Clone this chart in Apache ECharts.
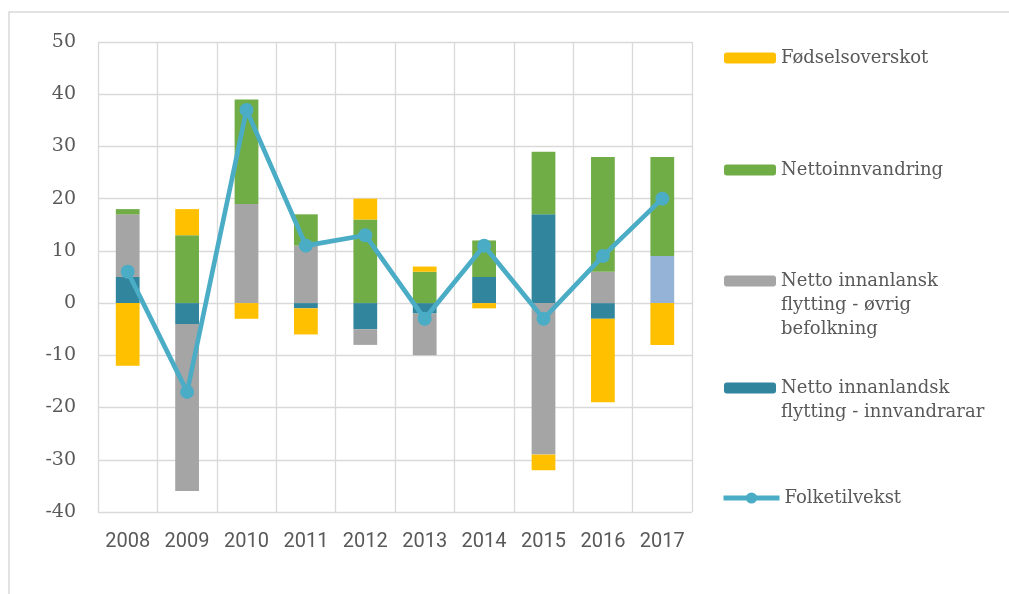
<!DOCTYPE html>
<html>
<head>
<meta charset="utf-8">
<script src="https://cdn.jsdelivr.net/npm/echarts@6/dist/echarts.min.js"></script>
<style>
  html, body { margin: 0; padding: 0; background: #fff; }
  #chart { width: 1009px; height: 594px; }
</style>
</head>
<body>
<div id="chart"></div>
<script>
// Categories
const years = ["2008", "2009", "2010", "2011", "2012", "2013", "2014", "2015", "2016", "2017"];

// Stacked components (thousands)
const fodselsoverskot = [-12, 5, -3, -5, 4, 1, -1, -3, -16, -8];
const nettoinnvandring = [1, 13, 20, 6, 16, 6, 7, 12, 22, 19];
const flyttingOvrig = [12, -32, 19, 11, -3, -8, 0, -29, 6, 9];
const flyttingInnvandrarar = [5, -4, 0, -1, -5, -2, 5, 17, -3, 0];

// Line
const folketilvekst = [6, -17, 37, 11, 13, -3, 11, -3, 9, 20];

const yTicks = [-40, -30, -20, -10, 0, 10, 20, 30, 40, 50];

const names = {
  fodsel: "Fødselsoverskot",
  innv: "Nettoinnvandring",
  ovrig: "Netto innanlansk\nflytting - øvrig\nbefolkning",
  innvFlytt: "Netto innanlandsk\nflytting - innvandrarar",
  vekst: "Folketilvekst"
};

const textColor = "#595959";
const gridColor = "#d9d9d9";
const lineH = 24;

// one legend block per item so the spacing matches the original;
// blank lines in front keep the first text line level with the icon
function legendItem(name, top, extra) {
  const lines = name.split("\n").length;
  return Object.assign({
    data: [name],
    left: 724,
    top: top,
    orient: "vertical",
    itemWidth: 52,
    itemHeight: 11,
    padding: 0,
    selectedMode: false,
    formatter: (n) => "\n".repeat(lines - 1) + n,
    textStyle: {
      fontFamily: "DejaVu Serif",
      fontSize: 18,
      color: textColor,
      lineHeight: lineH
    }
  }, extra || {});
}

const chart = echarts.init(document.getElementById("chart"));

chart.setOption({
  animation: false,
  backgroundColor: "#fff",
  graphic: [
    {
      type: "rect",
      shape: { x: 9, y: 12, width: 1020, height: 600 },
      style: { fill: "none", stroke: gridColor, lineWidth: 1.5 },
      silent: true
    }
  ],
  legend: [
    legendItem(names.fodsel, 46),
    legendItem(names.innv, 158),
    legendItem(names.ovrig, 221),
    legendItem(names.innvFlytt, 352),
    legendItem(names.vekst, 486, {
      left: 721,
      itemWidth: 56,
      itemHeight: 14,
      lineStyle: { width: 5 }
    })
  ],
  grid: { left: 98, right: 317, top: 42, bottom: 82, containLabel: false },
  xAxis: {
    type: "category",
    data: years,
    axisLine: { show: false, onZero: false },
    axisTick: { show: false },
    splitLine: { show: true, lineStyle: { color: gridColor, width: 1.3 } },
    axisLabel: {
      margin: 20,
      fontFamily: "Roboto",
      fontSize: 20,
      color: textColor
    }
  },
  yAxis: {
    type: "value",
    min: yTicks[0],
    max: yTicks[yTicks.length - 1],
    interval: 10,
    axisLine: { show: false },
    axisTick: { show: false },
    splitLine: { lineStyle: { color: gridColor, width: 1.3 } },
    axisLabel: {
      margin: 22,
      fontFamily: "DejaVu Serif",
      fontSize: 19,
      color: textColor
    }
  },
  series: [
    {
      name: names.innvFlytt,
      type: "bar",
      stack: "total",
      barWidth: "40%",
      itemStyle: { color: "#31859c" },
      data: flyttingInnvandrarar
    },
    {
      name: names.ovrig,
      type: "bar",
      stack: "total",
      itemStyle: { color: "#a5a5a5" },
      // last year is drawn in a lighter blue in the original
      data: flyttingOvrig.map((v, i) =>
        i === flyttingOvrig.length - 1 ? { value: v, itemStyle: { color: "#95b3d7" } } : v
      )
    },
    {
      name: names.innv,
      type: "bar",
      stack: "total",
      itemStyle: { color: "#70ad47" },
      data: nettoinnvandring
    },
    {
      name: names.fodsel,
      type: "bar",
      stack: "total",
      itemStyle: { color: "#ffc000" },
      data: fodselsoverskot
    },
    {
      name: names.vekst,
      type: "line",
      symbol: "circle",
      symbolSize: 14,
      z: 5,
      lineStyle: { color: "#4bacc6", width: 4.7 },
      itemStyle: { color: "#4bacc6" },
      data: folketilvekst
    }
  ]
});
</script>
</body>
</html>
